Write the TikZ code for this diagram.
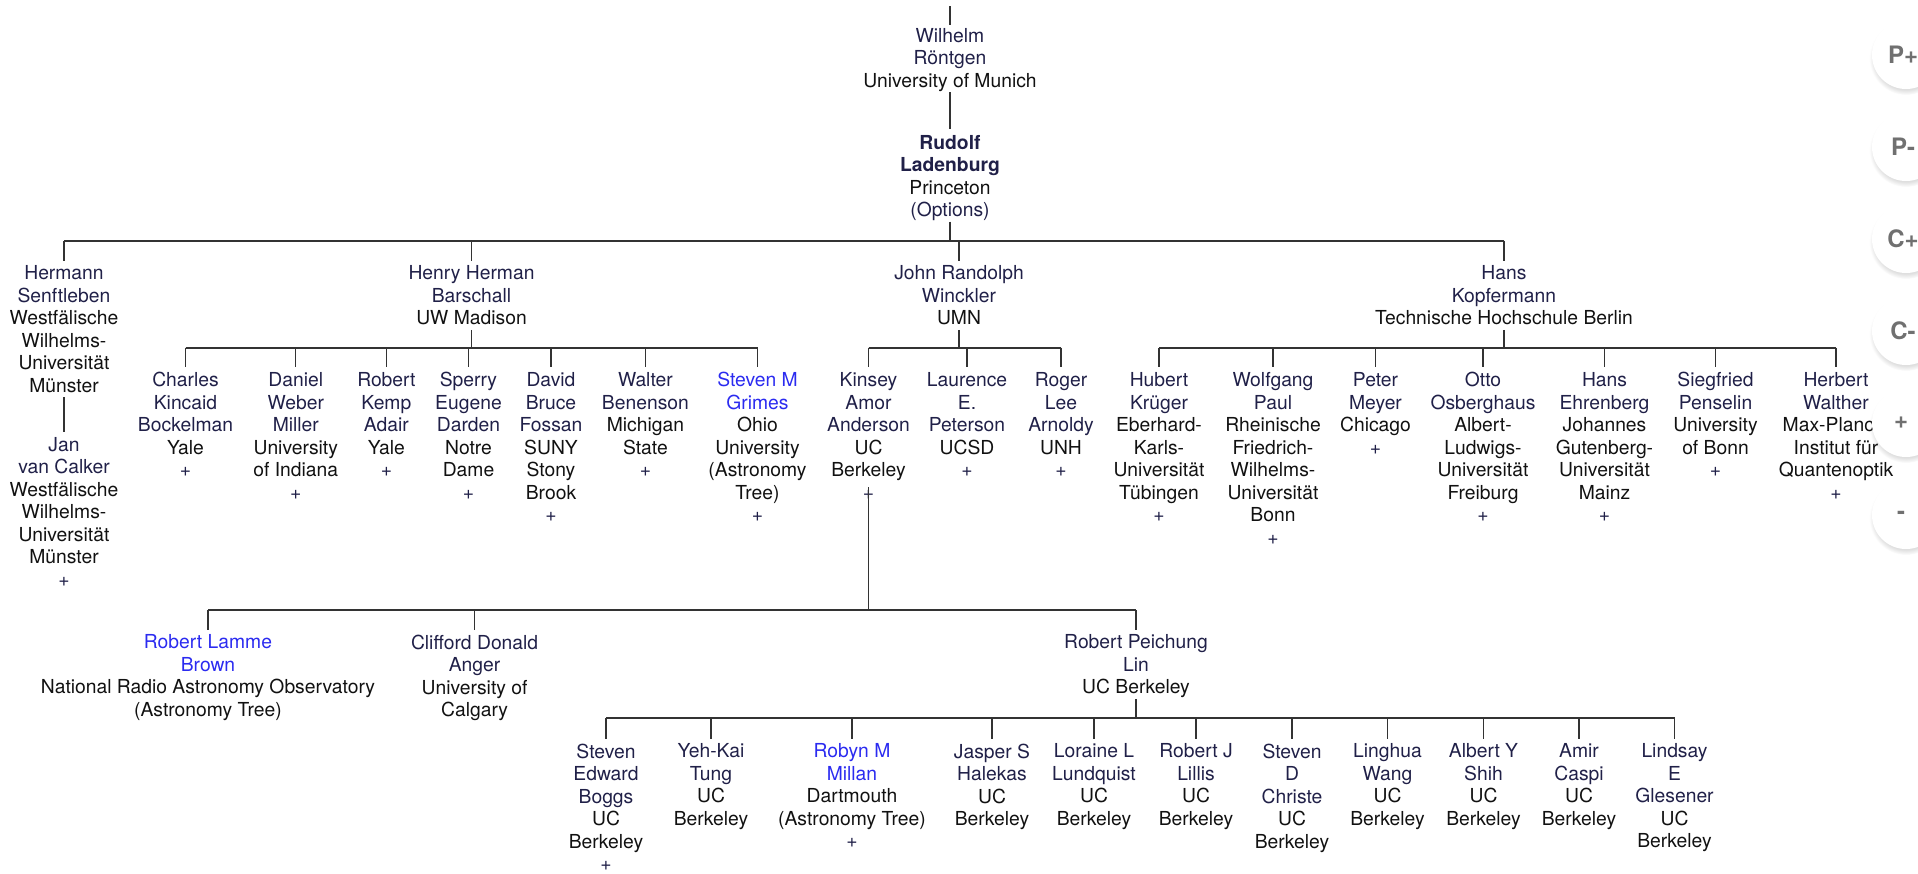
\documentclass[tikz,border=0pt]{standalone}
\usepackage{fontspec}
\setmainfont{TeX Gyre Heros}
\usetikzlibrary{shadows}
\definecolor{navy}{HTML}{202048}
\definecolor{affil}{HTML}{111111}
\definecolor{linkblue}{HTML}{2B2BF0}
\definecolor{linecol}{HTML}{333333}
\definecolor{btntext}{HTML}{707070}
\newcommand\af[1]{\textcolor{affil}{#1}}
\newcommand\bl[1]{\textcolor{linkblue}{#1}}
\begin{document}
\begin{tikzpicture}[x=1pt,y=-1pt,
  person/.style={anchor=north, yshift=7pt, inner sep=0pt, align=center, text=navy,
    font=\fontsize{19.3}{22.5}\selectfont,
    execute at begin node=\strut, execute at end node=\strut},
  vl/.style={draw=linecol, line width=1.2pt},
  barline/.style={draw=linecol, line width=2.2pt},
  btn/.style={circle, minimum size=68pt, inner sep=0pt, fill=white,
    circular drop shadow={shadow xshift=0pt, shadow yshift=-3pt, shadow scale=1.08, opacity=0.25}},
  btnlabel/.style={inner sep=0pt, text=btntext, font=\fontsize{24}{28}\selectfont\bfseries}]
\useasboundingbox (0,0) rectangle (1918,873);

% bar levels
\coordinate (yb1) at (0,240.7);
\coordinate (yb2) at (0,347.7);
\coordinate (yb3) at (0,610);
\coordinate (yb4) at (0,718.3);
\coordinate (top) at (950,6);

% root
\node[person] (W) at (950,35) {Wilhelm\\Röntgen\\\af{University of Munich}};
\node[person] (L) at (950,142) {\textbf{Rudolf}\\\textbf{Ladenburg}\\\af{Princeton}\\(Options)};

% level 1
\node[person] (HS) at (64,272.7) {Hermann\\Senftleben\\\af{Westfälische}\\\af{Wilhelms-}\\\af{Universität}\\\af{Münster}};
\node[person] (HB) at (471.5,272.7) {Henry Herman\\Barschall\\\af{UW Madison}};
\node[person] (JW) at (959,272.7) {John Randolph\\Winckler\\\af{UMN}};
\node[person] (HK) at (1504,272.7) {Hans\\Kopfermann\\\af{Technische Hochschule Berlin}};
\node[person] (JC) at (64,444) {Jan\\van Calker\\\af{Westfälische}\\\af{Wilhelms-}\\\af{Universität}\\\af{Münster}\\+};

% level 2 - Barschall
\node[person] (C1) at (185.5,379.3) {Charles\\Kincaid\\Bockelman\\\af{Yale}\\+};
\node[person] (C2) at (295.8,379.3) {Daniel\\Weber\\Miller\\\af{University}\\\af{of Indiana}\\+};
\node[person] (C3) at (386.4,379.3) {Robert\\Kemp\\Adair\\\af{Yale}\\+};
\node[person] (C4) at (468.5,379.3) {Sperry\\Eugene\\Darden\\\af{Notre}\\\af{Dame}\\+};
\node[person] (C5) at (551,379.3) {David\\Bruce\\Fossan\\\af{SUNY}\\\af{Stony}\\\af{Brook}\\+};
\node[person] (C6) at (645.4,379.3) {Walter\\Benenson\\\af{Michigan}\\\af{State}\\+};
\node[person] (C7) at (757.5,379.3) {\bl{Steven M}\\\bl{Grimes}\\\af{Ohio}\\\af{University}\\\af{(Astronomy}\\\af{Tree)}\\+};

% level 2 - Winckler
\node[person] (K1) at (868.5,379.3) {Kinsey\\Amor\\Anderson\\\af{UC}\\\af{Berkeley}\\+};
\node[person] (K2) at (967,379.3) {Laurence\\E.\\Peterson\\\af{UCSD}\\+};
\node[person] (K3) at (1061,379.3) {Roger\\Lee\\Arnoldy\\\af{UNH}\\+};

% level 2 - Kopfermann
\node[person] (P1) at (1159,379.3) {Hubert\\Krüger\\\af{Eberhard-}\\\af{Karls-}\\\af{Universität}\\\af{Tübingen}\\+};
\node[person] (P2) at (1273,379.3) {Wolfgang\\Paul\\\af{Rheinische}\\\af{Friedrich-}\\\af{Wilhelms-}\\\af{Universität}\\\af{Bonn}\\+};
\node[person] (P3) at (1375.5,379.3) {Peter\\Meyer\\\af{Chicago}\\+};
\node[person] (P4) at (1483,379.3) {Otto\\Osberghaus\\\af{Albert-}\\\af{Ludwigs-}\\\af{Universität}\\\af{Freiburg}\\+};
\node[person] (P5) at (1604.5,379.3) {Hans\\Ehrenberg\\\af{Johannes}\\\af{Gutenberg-}\\\af{Universität}\\\af{Mainz}\\+};
\node[person] (P6) at (1715.5,379.3) {Siegfried\\Penselin\\\af{University}\\\af{of Bonn}\\+};
\node[person] (P7) at (1836,379.3) {Herbert\\Walther\\\af{Max-Planck-}\\\af{Institut für}\\\af{Quantenoptik}\\+};

% level 3 - Anderson
\node[person] (A1) at (208,641.7) {\bl{Robert Lamme}\\\bl{Brown}\\\af{National Radio Astronomy Observatory}\\\af{(Astronomy Tree)}};
\node[person] (A2) at (474.6,641.7) {Clifford Donald\\Anger\\\af{University of}\\\af{Calgary}};
\node[person] (A3) at (1136,641.7) {Robert Peichung\\Lin\\\af{UC Berkeley}};

% level 4 - Lin
\node[person] (B1) at (606,750.7) {Steven\\Edward\\Boggs\\\af{UC}\\\af{Berkeley}\\+};
\node[person] (B2) at (711,750.7) {Yeh-Kai\\Tung\\\af{UC}\\\af{Berkeley}};
\node[person] (B3) at (852,750.7) {\bl{Robyn M}\\\bl{Millan}\\\af{Dartmouth}\\\af{(Astronomy Tree)}\\+};
\node[person] (B4) at (992,750.7) {Jasper S\\Halekas\\\af{UC}\\\af{Berkeley}};
\node[person] (B5) at (1094,750.7) {Loraine L\\Lundquist\\\af{UC}\\\af{Berkeley}};
\node[person] (B6) at (1196,750.7) {Robert J\\Lillis\\\af{UC}\\\af{Berkeley}};
\node[person] (B7) at (1292,750.7) {Steven\\D\\Christe\\\af{UC}\\\af{Berkeley}};
\node[person] (B8) at (1387.5,750.7) {Linghua\\Wang\\\af{UC}\\\af{Berkeley}};
\node[person] (B9) at (1483.5,750.7) {Albert Y\\Shih\\\af{UC}\\\af{Berkeley}};
\node[person] (B10) at (1579,750.7) {Amir\\Caspi\\\af{UC}\\\af{Berkeley}};
\node[person] (B11) at (1674.5,750.7) {Lindsay\\E\\Glesener\\\af{UC}\\\af{Berkeley}};

% connectors: root chain
\draw[vl] (top) -- ([yshift=3pt]W.north);
\draw[vl] ([yshift=2pt]W.south) -- ([yshift=6pt]L.north);
\draw[vl] ([yshift=2pt]HS.south) -- ([yshift=5pt]JC.north);

% family: Ladenburg
\draw[vl] ([yshift=2pt]L.south) -- (L.south |- yb1);
\draw[barline] (HS.north |- yb1) -- (HK.north |- yb1);
\foreach \c in {HS,HB,JW,HK} {\draw[vl] (\c.north |- yb1) -- ([yshift=5pt]\c.north);}

% family: Barschall
\draw[vl] ([yshift=2pt]HB.south) -- (HB.south |- yb2);
\draw[barline] (C1.north |- yb2) -- (C7.north |- yb2);
\foreach \c in {C1,C2,C3,C4,C5,C6,C7} {\draw[vl] (\c.north |- yb2) -- ([yshift=5pt]\c.north);}

% family: Winckler
\draw[vl] ([yshift=2pt]JW.south) -- (JW.south |- yb2);
\draw[barline] (K1.north |- yb2) -- (K3.north |- yb2);
\foreach \c in {K1,K2,K3} {\draw[vl] (\c.north |- yb2) -- ([yshift=5pt]\c.north);}

% family: Kopfermann
\draw[vl] ([yshift=2pt]HK.south) -- (HK.south |- yb2);
\draw[barline] (P1.north |- yb2) -- (P7.north |- yb2);
\foreach \c in {P1,P2,P3,P4,P5,P6,P7} {\draw[vl] (\c.north |- yb2) -- ([yshift=5pt]\c.north);}

% family: Anderson
\draw[vl] ([yshift=19pt]K1.south) -- (K1.south |- yb3);
\draw[barline] (A1.north |- yb3) -- (A3.north |- yb3);
\foreach \c in {A1,A2,A3} {\draw[vl] (\c.north |- yb3) -- ([yshift=5pt]\c.north);}

% family: Lin
\draw[vl] ([yshift=2pt]A3.south) -- (A3.south |- yb4);
\draw[barline] (B1.north |- yb4) -- (B11.north |- yb4);
\foreach \c in {B1,B2,B3,B4,B5,B6,B7,B8,B9,B10,B11} {\draw[vl] (\c.north |- yb4) -- ([yshift=5pt]\c.north);}

% side buttons
\node[btn] (bt1) at (1906,55) {};
\node[btn] (bt2) at (1906,147) {};
\node[btn] (bt3) at (1906,239) {};
\node[btn] (bt4) at (1906,331) {};
\node[btn] (bt5) at (1906,423) {};
\node[btn] (bt6) at (1906,515) {};
\node[btnlabel] at ([xshift=-3pt]bt1.center) {P+};
\node[btnlabel] at ([xshift=-3pt]bt2.center) {P-};
\node[btnlabel] at ([xshift=-3pt]bt3.center) {C+};
\node[btnlabel] at ([xshift=-3pt]bt4.center) {C-};
\node[btnlabel] at ([xshift=-5pt]bt5.center) {+};
\node[btnlabel] at ([xshift=-5pt]bt6.center) {-};
\end{tikzpicture}
\end{document}
